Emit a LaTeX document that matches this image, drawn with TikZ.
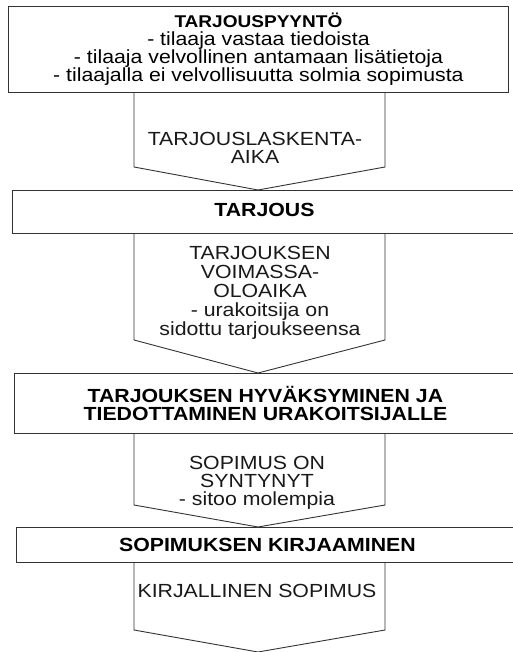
\documentclass[tikz,border=0pt]{standalone}
\usepackage{fontspec}
\setmainfont{Liberation Sans}[FakeStretch=1.12]
\usetikzlibrary{positioning}

\begin{document}
\begin{tikzpicture}[x=1pt, y=-1pt,
  stage/.style={draw=black!80, line width=0.9pt, inner sep=0pt, anchor=north west,
    align=center, font=\bfseries\fontsize{19}{18}\selectfont},
  phase/.style={align=center, text=black!90, font=\fontsize{19}{18}\selectfont},
  arrowbody/.style={draw=black!80, line width=0.9pt, line join=miter}]
\useasboundingbox (0,0) rectangle (512,652);

% Parameters
\def\xl{134}   % left side of the block arrows
\def\xr{385}   % right side of the block arrows
\def\xm{258}   % tip of the block arrows

% The four stages
\node[stage, minimum width=500pt, minimum height=86pt,
  font=\fontsize{19}{18}\selectfont] (tp) at (8,6)
  {\textbf{\fontsize{17}{18}\selectfont TARJOUSPYYNTÖ}\\
   - tilaaja vastaa tiedoista\\
   - tilaaja velvollinen antamaan lisätietoja\\
   - tilaajalla ei velvollisuutta solmia sopimusta};
\node[stage, minimum width=504pt, minimum height=43pt, text depth=4pt] (ta) at (12,190)
  {TARJOUS};
\node[stage, minimum width=502pt, minimum height=60pt] (th) at (14,373)
  {TARJOUKSEN HYVÄKSYMINEN JA\\ TIEDOTTAMINEN URAKOITSIJALLE};
\node[stage, minimum width=502pt, minimum height=35pt] (sk) at (16,527)
  {SOPIMUKSEN KIRJAAMINEN};
\coordinate (loppu) at (\xm,652);

% Block arrows between the stages
\foreach \from/\to/\side in {tp.south/ta.north/167, ta.south/th.north/340,
                             th.south/sk.north/505, sk.south/loppu/630} {
  \draw[arrowbody] (\xl,0 |- \from) -- (\xl,\side) -- (\xm,0 |- \to)
    -- (\xr,\side) -- (\xr,0 |- \from);
}

% Texts in the arrows
\node[phase] (laskenta) at (255,148)
  {TARJOUSLASKENTA-\\AIKA};
\node[phase, font=\fontsize{19}{19}\selectfont] (voimassa) at (260,293)
  {TARJOUKSEN\\VOIMASSA-\\OLOAIKA\\- urakoitsija on\\sidottu tarjoukseensa};
\node[phase] (syntynyt) at (257,483)
  {SOPIMUS ON\\SYNTYNYT\\- sitoo molempia};
\node[phase] (kirjallinen) at (257,591) {KIRJALLINEN SOPIMUS};

\end{tikzpicture}
\end{document}
